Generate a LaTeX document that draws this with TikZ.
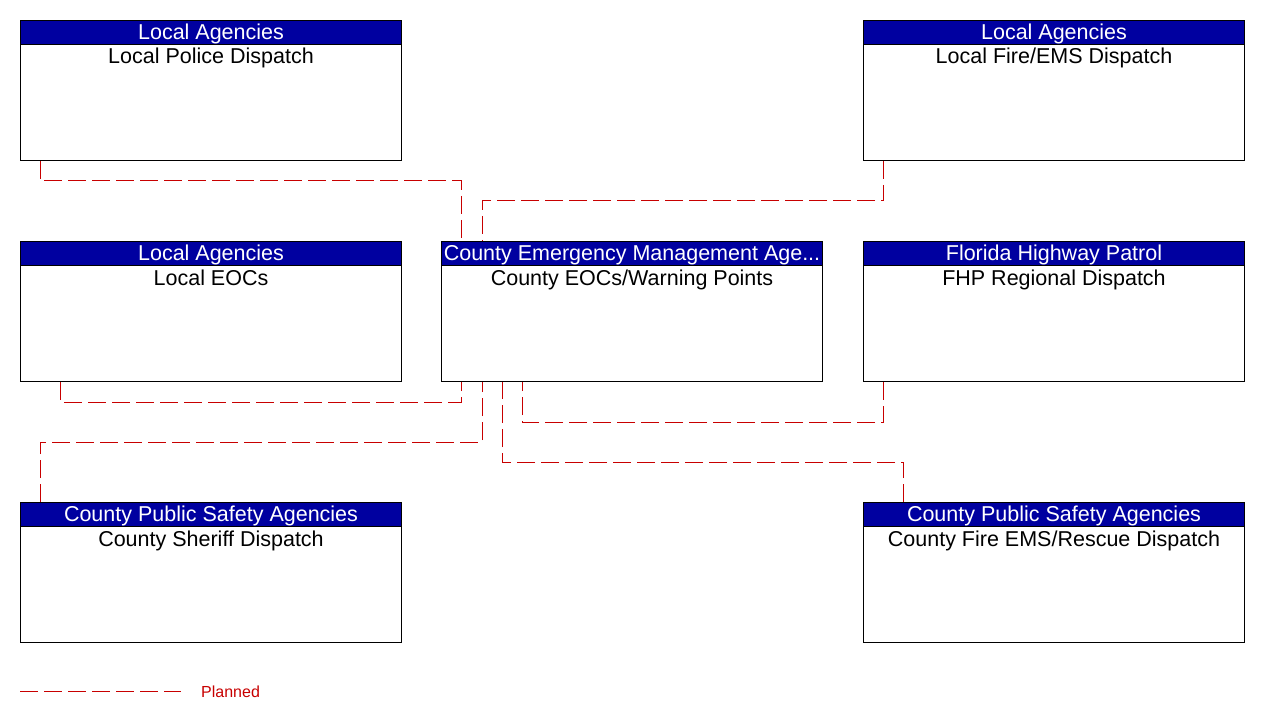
\documentclass[tikz,border=0pt]{standalone}
\usepackage{fontspec}
\setmainfont{Liberation Sans}
\usetikzlibrary{calc}
\definecolor{hdrblue}{RGB}{0,0,160}
\definecolor{planred}{RGB}{200,0,0}
\newcommand\agbox[5]{%
  \node[box] (#1) at (#2,#3) {};
  \node[hdr] (#1-h) at (#2,#3) {};
  \node[hdrtxt] (#1-ht) at ($(#1.north)+(0,19.5)$) {#4};
  \node[ttl] (#1-t) at ($(#1.north)+(0,44)$) {#5};
}
\begin{document}
\begin{tikzpicture}[x=1pt,y=-1pt,
 box/.style={draw=black, line width=1pt, minimum width=381pt, minimum height=140pt, anchor=north west, inner sep=0},
 hdr/.style={draw=black, fill=hdrblue, line width=1pt, minimum width=381pt, minimum height=24pt, anchor=north west, inner sep=0},
 hdrtxt/.style={anchor=base, inner sep=0, text=white, font=\fontsize{21.5}{24}\selectfont},
 ttl/.style={anchor=base, inner sep=0, font=\fontsize{21.5}{24}\selectfont},
 planned/.style={draw=planred, line width=1pt, dash pattern=on 18pt off 6pt},
 legtxt/.style={anchor=base west, inner sep=0, text=planred, font=\fontsize{16}{18}\selectfont}]
\useasboundingbox[fill=white] (0,0) rectangle (1261,722);

% boxes
\agbox{pol}{20}{20}{Local Agencies}{Local Police Dispatch}
\agbox{fir}{863}{20}{Local Agencies}{Local Fire/EMS Dispatch}
\agbox{eoc}{20}{241}{Local Agencies}{Local EOCs}
\agbox{cem}{441}{241}{County Emergency Management Age...}{County EOCs/Warning Points}
\agbox{fhp}{863}{241}{Florida Highway Patrol}{FHP Regional Dispatch}
\agbox{shr}{20}{502}{County Public Safety Agencies}{County Sheriff Dispatch}
\agbox{cfr}{863}{502}{County Public Safety Agencies}{County Fire EMS/Rescue Dispatch}

% connectors
\draw[planned] ($(pol.south west)+(20,0)$) |- ($(cem.north west)+(20,-60)$) -- ($(cem.north west)+(20,0)$);
\draw[planned] ($(fir.south west)+(20,0)$) |- ($(cem.north west)+(41,-40)$) -- ($(cem.north west)+(41,0)$);
\draw[planned] ($(eoc.south west)+(40,0)$) |- ($(cem.south west)+(20,20)$) -- ($(cem.south west)+(20,0)$);
\draw[planned] ($(shr.north west)+(20,0)$) |- ($(cem.south west)+(41,60)$) -- ($(cem.south west)+(41,0)$);
\draw[planned] ($(fhp.south west)+(20,0)$) |- ($(cem.south west)+(81,40)$) -- ($(cem.south west)+(81,0)$);
\draw[planned] ($(cfr.north west)+(40,0)$) |- ($(cem.south west)+(61,80)$) -- ($(cem.south west)+(61,0)$);

% legend
\coordinate (lg1) at (20,691);
\coordinate (lg2) at (181,691);
\draw[planned] (lg1) -- (lg2);
\node[legtxt] (lgt) at (201,697) {Planned};
\end{tikzpicture}
\end{document}
